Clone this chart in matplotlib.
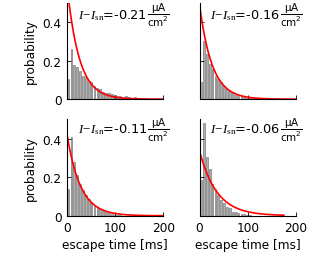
import numpy as np
import matplotlib
matplotlib.use('Agg')
from matplotlib import pyplot as plt

plt.rcParams['font.family'] = ['DejaVu Sans']
plt.rcParams['font.size'] = 8.7
plt.rcParams['mathtext.fontset'] = 'custom'
plt.rcParams['mathtext.rm'] = 'Liberation Serif'
plt.rcParams['mathtext.it'] = 'Liberation Serif:italic'
plt.rcParams['mathtext.sf'] = 'DejaVu Sans'

# escape time histograms, bins of 6 ms starting at 0
BIN_WIDTH = 6

currents = ['-0.21', '-0.16', '-0.11', '-0.06']

hist_a = [0.104, 0.26, 0.177, 0.165, 0.147, 0.121, 0.113, 0.095, 0.087, 0.066, 0.06, 0.052,
          0.038, 0.034, 0.03, 0.026, 0.02, 0.016, 0.014, 0.012, 0.014, 0.01, 0.008, 0.009,
          0.006, 0.007, 0.004]
hist_b = [0.087, 0.30, 0.234, 0.18, 0.156, 0.121, 0.104, 0.087, 0.066, 0.055, 0.043, 0.035,
          0.023, 0.018, 0.014, 0.01, 0.008, 0.006, 0.004, 0.003]
hist_c = [0.14, 0.41, 0.28, 0.21, 0.167, 0.133, 0.107, 0.086, 0.069, 0.052, 0.041, 0.033,
          0.024, 0.018, 0.013, 0.009, 0.006, 0.004, 0.003]
hist_d = [0.184, 0.48, 0.305, 0.245, 0.167, 0.14, 0.107, 0.081, 0.064, 0.047, 0.038, 0.021,
          0.019, 0.013, 0.01, 0.007, 0.005, 0.003]

# exponential fit: amplitude, time constant [ms], end of fitted curve [ms]
fit_amp = [0.59, 0.49, 0.42, 0.336]
fit_tau = [25, 26, 28, 36]
fit_end = [200, 200, 200, 175]

hists = [hist_a, hist_b, hist_c, hist_d]

fig, axes = plt.subplots(2, 2, figsize=(3.27, 2.55), dpi=100)
fig.subplots_adjust(left=0.205, right=0.905, bottom=0.15, top=0.985, wspace=0.374, hspace=0.21)

for i, ax in enumerate(axes.flat):
    h = np.array(hists[i])
    centers = BIN_WIDTH * np.arange(len(h)) + BIN_WIDTH / 2
    ax.bar(centers, h, width=BIN_WIDTH * 0.6, color='0.68', edgecolor='0.4', linewidth=0.4)

    t = np.linspace(0, fit_end[i], 300)
    ax.plot(t, fit_amp[i] * np.exp(-t / fit_tau[i]), color='red', lw=1.2)

    ax.set_xlim(0, 200)
    ax.set_ylim(0, 0.5)
    ax.spines['top'].set_visible(False)
    ax.spines['right'].set_visible(False)
    for s in ['left', 'bottom']:
        ax.spines[s].set_linewidth(0.8)
    ax.tick_params(direction='in', length=3, width=0.6, pad=4)
    ax.set_xticks([0, 100, 200])
    ax.set_yticks([0, 0.2, 0.4])

    row, col = divmod(i, 2)
    if col == 0:
        ax.set_yticklabels(['0', '0.2', '0.4'])
        ax.set_ylabel('probability', labelpad=4)
    else:
        ax.set_yticklabels([])
    if row == 1:
        ax.set_xticklabels(['0', '100', '200'])
        ax.set_xlabel('escape time [ms]', labelpad=3)
    else:
        ax.set_xticklabels([])

    # current label, unit fraction drawn right after it
    ypos = 0.88 if row == 0 else 0.9
    txt = ax.text(0.11, ypos, r'$I\!-\!I_{\rm sn}$=' + currents[i], transform=ax.transAxes,
                  va='center', ha='left', fontsize=9.3)
    ax.annotate(r'$\dfrac{\mathsf{\mu A}}{\mathsf{cm^2}}$', xy=(1, 0.5), xycoords=txt,
                xytext=(0, 0), textcoords='offset points', va='center', ha='left', fontsize=7.5)

plt.savefig('out.png', dpi=100)
plt.close()
